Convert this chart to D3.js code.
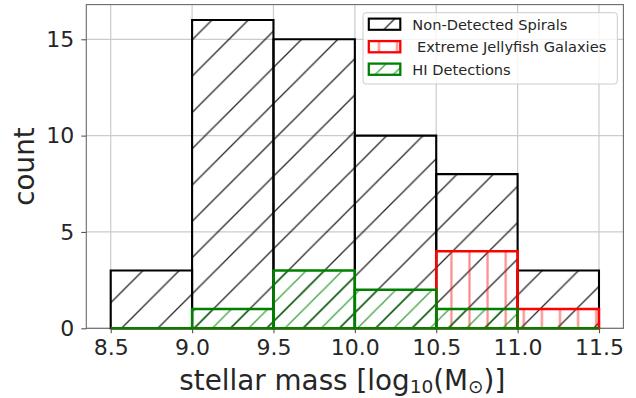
<!DOCTYPE html>
<html>
<head>
<meta charset="utf-8">
<script src="https://cdn.jsdelivr.net/npm/d3@7"></script>
<style>
  html, body { margin: 0; padding: 0; background: #fff; }
  svg { display: block; font-family: "DejaVu Sans", sans-serif; }
</style>
</head>
<body>
<svg id="chart" width="636" height="398"></svg>
<script>
// Histogram bin edges (log10 stellar mass) and counts per bin
const binEdges = [8.5, 9.0, 9.5, 10.0, 10.5, 11.0, 11.5];
const nonDetected = [3, 16, 15, 10, 8, 3];
const jellyfish = [0, 0, 0, 0, 4, 1];
const hiDetections = [0, 1, 3, 2, 1, 0];

const xTicks = [8.5, 9.0, 9.5, 10.0, 10.5, 11.0, 11.5];
const xTickLabels = ["8.5", "9.0", "9.5", "10.0", "10.5", "11.0", "11.5"];
const yTicks = [0, 5, 10, 15];
const yTickLabels = ["0", "5", "10", "15"];

const seriesNames = ["Non-Detected Spirals", " Extreme Jellyfish Galaxies", "HI Detections"];

const svg = d3.select("#chart");
const plot = { left: 86.3, right: 623.4, top: 4.6, bottom: 328.3 };

const x = d3.scaleLinear().domain([8.35, 11.65]).range([plot.left, plot.right]);
const y = d3.scaleLinear().domain([0, 16.8]).range([plot.bottom, plot.top]);

// Hatch patterns, anchored in page space so adjacent bars line up
const defs = svg.append("defs");
function diagPattern(id, period, phase, color, width) {
  const p = defs.append("pattern").attr("id", id)
    .attr("patternUnits", "userSpaceOnUse")
    .attr("x", phase).attr("y", 0)
    .attr("width", period).attr("height", period);
  p.append("path")
    .attr("d", `M0,${period} L${period},0 M-2,2 L2,-2 M${period - 2},${period + 2} L${period + 2},${period - 2}`)
    .attr("stroke", color).attr("stroke-width", width).attr("fill", "none");
}
diagPattern("hatch-black", 36.3, 14.2, "rgba(0,0,0,0.85)", 1.3);
diagPattern("hatch-green", 18.15, 14.2, "rgba(0,128,0,0.7)", 1.4);
(function () {
  const period = 18.1;
  const p = defs.append("pattern").attr("id", "hatch-red")
    .attr("patternUnits", "userSpaceOnUse")
    .attr("x", 17 - period / 2).attr("y", 0)
    .attr("width", period).attr("height", period);
  p.append("line")
    .attr("x1", period / 2).attr("x2", period / 2)
    .attr("y1", -1).attr("y2", period + 1)
    .attr("stroke", "rgba(255,0,0,0.45)").attr("stroke-width", 2.2);
})();

// Grid
const grid = svg.append("g");
grid.selectAll("line.gx").data(xTicks).join("line")
  .attr("x1", d => x(d)).attr("x2", d => x(d))
  .attr("y1", plot.top).attr("y2", plot.bottom)
  .attr("stroke", "#cbcbcb").attr("stroke-width", 1.2);
grid.selectAll("line.gy").data(yTicks).join("line")
  .attr("x1", plot.left).attr("x2", plot.right)
  .attr("y1", d => y(d)).attr("y2", d => y(d))
  .attr("stroke", "#cbcbcb").attr("stroke-width", 1.2);

// Spines
svg.append("rect")
  .attr("x", plot.left).attr("y", plot.top)
  .attr("width", plot.right - plot.left).attr("height", plot.bottom - plot.top)
  .attr("fill", "none").attr("stroke", "#6a6a6a").attr("stroke-width", 1.1);

// Bars drawn as closed paths so that empty bins still show their base edge
function barPath(i, v) {
  const x0 = x(binEdges[i]), x1 = x(binEdges[i + 1]);
  const y0 = y(0), y1 = y(v);
  return `M${x0},${y0} L${x0},${y1} L${x1},${y1} L${x1},${y0} Z`;
}
function drawHist(values, hatchId, edge, edgeWidth) {
  const g = svg.append("g");
  g.selectAll("path").data(values).join("path")
    .attr("d", (v, i) => barPath(i, v))
    .attr("fill", `url(#${hatchId})`)
    .attr("stroke", edge).attr("stroke-width", edgeWidth)
    .attr("stroke-linejoin", "miter");
}
drawHist(nonDetected, "hatch-black", "#000", 2.1);
drawHist(jellyfish, "hatch-red", "#ff0000", 2.5);
drawHist(hiDetections, "hatch-green", "#008000", 2.5);

// Axes
const xAxis = d3.axisBottom(x).tickValues(xTicks)
  .tickFormat((d, i) => xTickLabels[i]).tickSize(5).tickSizeOuter(0).tickPadding(6);
const gx = svg.append("g").attr("transform", `translate(0,${plot.bottom})`).call(xAxis);
gx.select(".domain").remove();
gx.selectAll(".tick line").attr("stroke", "#555").attr("stroke-width", 1.1);
gx.selectAll(".tick text").attr("font-size", 22).attr("fill", "#262626")
  .attr("font-family", "DejaVu Sans");

const yAxis = d3.axisLeft(y).tickValues(yTicks)
  .tickFormat((d, i) => yTickLabels[i]).tickSize(5).tickSizeOuter(0).tickPadding(7);
const gy = svg.append("g").attr("transform", `translate(${plot.left},0)`).call(yAxis);
gy.select(".domain").remove();
gy.selectAll(".tick line").attr("stroke", "#555").attr("stroke-width", 1.1);
gy.selectAll(".tick text").attr("font-size", 22).attr("fill", "#262626")
  .attr("font-family", "DejaVu Sans");

// Axis titles
const xl = svg.append("text")
  .attr("x", 179.3).attr("y", 389.5)
  .attr("font-size", 27.8).attr("fill", "#262626");
xl.append("tspan").text("stellar mass [log");
xl.append("tspan").attr("dy", 3.5).attr("font-size", 18.5).text("10");
xl.append("tspan").attr("dy", -3.5).text("(M");
xl.append("tspan").attr("dy", 3.5).attr("font-size", 18.5).text("\u2299");
xl.append("tspan").attr("dy", -3.5).text(")]");

svg.append("text")
  .attr("transform", `translate(33.5,${(plot.top + plot.bottom) / 2}) rotate(-90)`)
  .attr("text-anchor", "middle")
  .attr("font-size", 27.8).attr("fill", "#262626")
  .text("count");

// Legend
const legend = svg.append("g");
legend.append("rect")
  .attr("x", 363).attr("y", 12.7).attr("width", 254.3).attr("height", 71.3)
  .attr("rx", 3).attr("fill", "rgba(255,255,255,0.8)")
  .attr("stroke", "#cccccc").attr("stroke-width", 1);
const legendItems = [
  { name: seriesNames[0], hatch: "hatch-black", edge: "#000", w: 2.1 },
  { name: seriesNames[1], hatch: "hatch-red", edge: "#ff0000", w: 2.3 },
  { name: seriesNames[2], hatch: "hatch-green", edge: "#008000", w: 2.3 }
];
const rowY = [24.2, 46.7, 69.2];
legendItems.forEach((d, i) => {
  legend.append("rect")
    .attr("x", 368.8).attr("y", rowY[i] - 5.6).attr("width", 31.5).attr("height", 11.2)
    .attr("fill", `url(#${d.hatch})`).attr("stroke", d.edge).attr("stroke-width", d.w);
  legend.append("text")
    .attr("x", 412.3).attr("y", rowY[i] + 5.4)
    .attr("font-size", 14.6).attr("fill", "#262626")
    .style("white-space", "pre")
    .text(d.name);
});
</script>
</body>
</html>
